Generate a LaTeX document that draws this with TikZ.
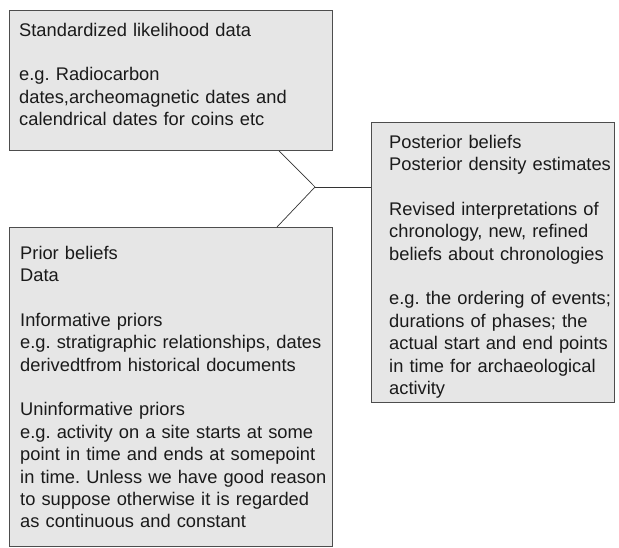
\documentclass[tikz,border=0pt]{standalone}
\usepackage{fontspec}
\setmainfont{Liberation Sans}
\usetikzlibrary{calc}
\definecolor{boxfill}{HTML}{E6E6E6}
\definecolor{boxline}{HTML}{4D4D4D}
\definecolor{linkline}{HTML}{333333}
\definecolor{ink}{HTML}{1A1A1A}
\begin{document}
\begin{tikzpicture}[x=1pt,y=-1pt,
  panel/.style={draw=boxline, fill=boxfill, line width=0.9pt, inner sep=0pt, anchor=north west},
  label/.style={anchor=base west, inner sep=0pt, align=left, text width=330pt,
    font=\fontsize{18.3}{22.4}\selectfont\frenchspacing, text=ink},
  link/.style={draw=linkline, line width=0.7pt}]
  \useasboundingbox (0,0) rectangle (619,547);

  % the three panels
  \node[panel, minimum width=323pt, minimum height=140.5pt] (lik) at (9,9.5) {};
  \node[panel, minimum width=323pt, minimum height=319pt] (pri) at (9,227) {};
  \node[panel, minimum width=243pt, minimum height=280pt] (post) at (371,122) {};

  % panel texts
  \node[label] (likt) at (19,36) {Standardized likelihood data\\[22.4pt]
    e.g. Radiocarbon\\
    dates,archeomagnetic dates and\\
    calendrical dates for coins etc};
  \node[label] (prit) at (20,259) {Prior beliefs\\
    Data\\[22.4pt]
    Informative priors\\
    e.g. stratigraphic relationships, dates\\
    derivedtfrom historical documents\\[22.4pt]
    Uninformative priors\\
    e.g. activity on a site starts at some\\
    point in time and ends at somepoint\\
    in time. Unless we have good reason\\
    to suppose otherwise it is regarded\\
    as continuous and constant};
  \node[label] (postt) at (389,148) {Posterior beliefs\\
    Posterior density estimates\\[22.4pt]
    Revised interpretations of\\
    chronology, new, refined\\
    beliefs about chronologies\\[22.4pt]
    e.g. the ordering of events;\\
    durations of phases; the\\
    actual start and end points\\
    in time for archaeological\\
    activity};

  % joining lines
  \coordinate (j) at (315,187);
  \draw[link] ($(lik.south west)+(270,0)$) -- (j) -- ($(pri.north west)+(268,0)$);
  \draw[link] (j) -- (j -| post.west);
\end{tikzpicture}
\end{document}
